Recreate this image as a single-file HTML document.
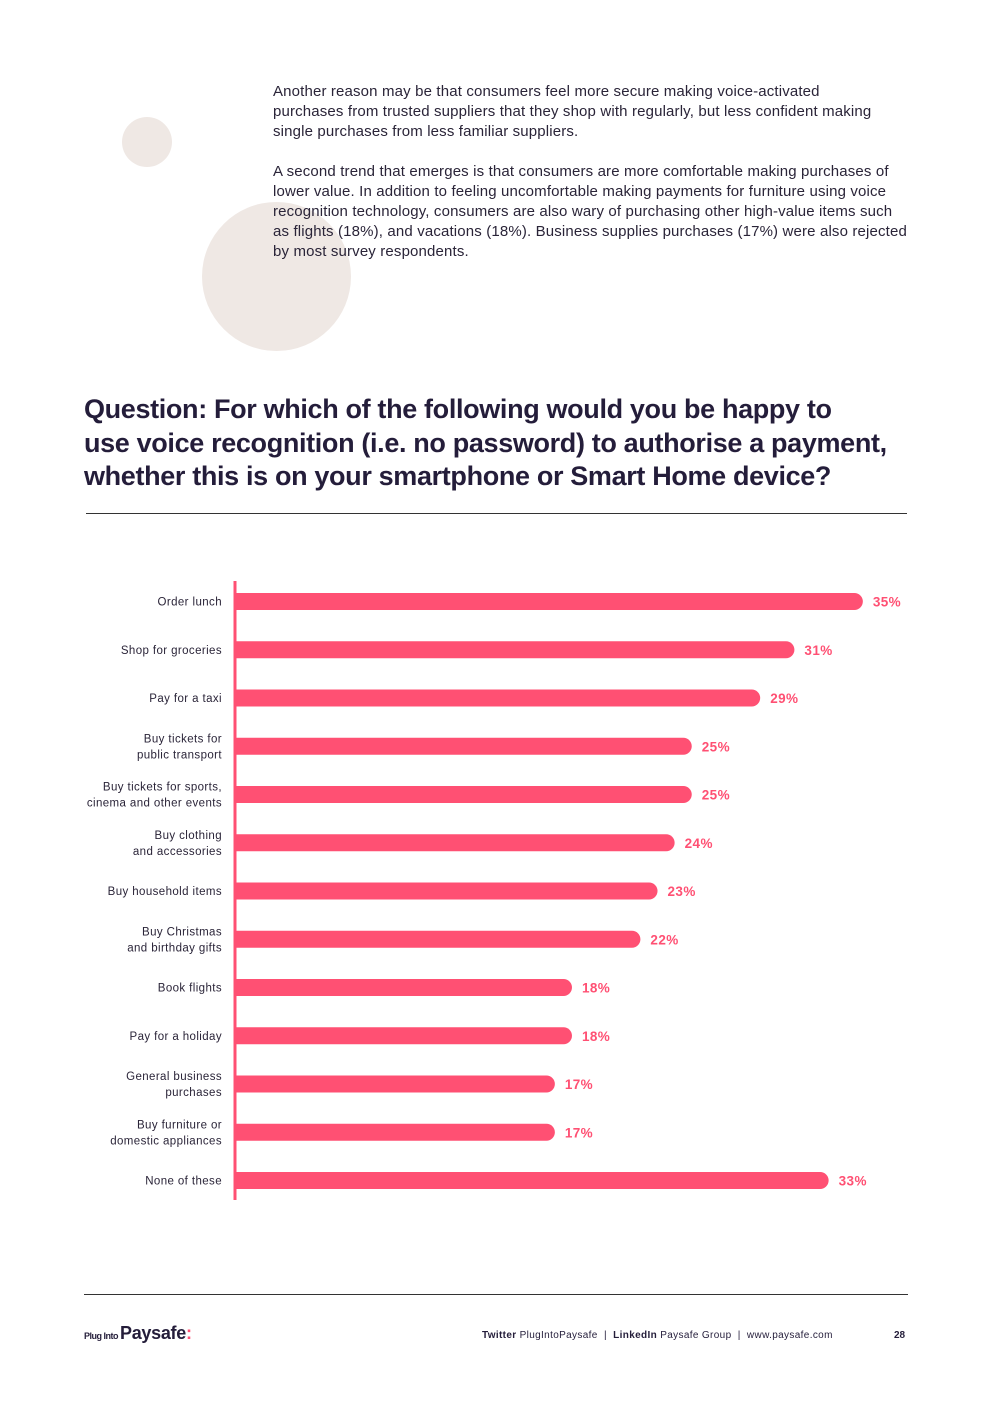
<!DOCTYPE html>
<html><head><meta charset="utf-8"><style>
body{margin:0;background:#fff;}
#page{position:relative;width:992px;height:1403px;overflow:hidden;background:#fff;font-family:"Liberation Sans",sans-serif;color:#2a2438;}
.circ{position:absolute;border-radius:50%;background:#efe8e4;}
.para{position:absolute;left:273px;width:700px;font-size:15px;letter-spacing:0.15px;line-height:20px;color:#2a2438;white-space:nowrap;}
h1{position:absolute;left:84px;top:393px;margin:0;font-size:27px;line-height:33.5px;font-weight:bold;color:#241d3a;letter-spacing:-0.35px;}
.rule{position:absolute;height:1px;background:#333;}
.foot{position:absolute;font-size:10px;color:#241d3a;}
</style></head><body>
<div id="page">
<div class="circ" style="left:122px;top:117px;width:50px;height:50px"></div>
<div class="circ" style="left:202px;top:202px;width:149px;height:149px"></div>
<div class="para" style="top:82px">Another reason may be that consumers feel more secure making voice-activated<br>purchases from trusted suppliers that they shop with regularly, but less confident making<br>single purchases from less familiar suppliers.</div>
<div class="para" style="top:162px">A second trend that emerges is that consumers are more comfortable making purchases of<br>lower value. In addition to feeling uncomfortable making payments for furniture using voice<br>recognition technology, consumers are also wary of purchasing other high-value items such<br>as flights (18%), and vacations (18%). Business supplies purchases (17%) were also rejected<br>by most survey respondents.</div>
<h1>Question: For which of the following would you be happy to<br>use voice recognition (i.e. no password) to authorise a payment,<br>whether this is on your smartphone or Smart Home device?</h1>
<div class="rule" style="left:86px;top:513px;width:821px"></div>
<svg id="chart" style="position:absolute;left:0;top:0" width="992" height="1403"></svg>
<div class="rule" style="left:84px;top:1294px;width:824px"></div>
<div class="foot" style="left:84px;top:1323px;font-weight:bold;font-size:10px"><span style="font-size:9px;letter-spacing:-0.5px">Plug Into </span><span style="font-size:18px;letter-spacing:-0.3px">Paysafe</span><span style="color:#ff5073;font-size:18px">:</span></div>
<div class="foot" style="left:482px;top:1330px;letter-spacing:0.35px"><b>Twitter</b> PlugIntoPaysafe &nbsp;|&nbsp; <b>LinkedIn</b> Paysafe Group &nbsp;|&nbsp; www.paysafe.com</div>
<div class="foot" style="left:894px;top:1330px;font-weight:bold">28</div>
</div>
<script>
const categories=[["Order lunch"],["Shop for groceries"],["Pay for a taxi"],["Buy tickets for","public transport"],["Buy tickets for sports,","cinema and other events"],["Buy clothing","and accessories"],["Buy household items"],["Buy Christmas","and birthday gifts"],["Book flights"],["Pay for a holiday"],["General business","purchases"],["Buy furniture or","domestic appliances"],["None of these"]];
const values=[35,31,29,25,25,24,23,22,18,18,17,17,33];
const valueLabels=["35%","31%","29%","25%","25%","24%","23%","22%","18%","18%","17%","17%","33%"];
const NS="http://www.w3.org/2000/svg";
const svg=document.getElementById('chart');
const x0=235,xOff=29,pxPer=17.11,y0=601.5,step=48.25,bh=17;
const xs=v=>x0+xOff+v*pxPer;
const ys=i=>y0+i*step;
function mk(t,a){const e=document.createElementNS(NS,t);for(const k in a)e.setAttribute(k,a[k]);svg.appendChild(e);return e;}
values.forEach((v,i)=>{
  const w=xs(v)-x0,y=ys(i);
  const p=mk('path',{d:`M${x0} ${y-bh/2}H${x0+w-bh/2}A${bh/2} ${bh/2} 0 0 1 ${x0+w-bh/2} ${y+bh/2}H${x0}Z`,fill:'#ff5073'});
  
  
  const t=mk('text',{x:xs(v)+10,y:y+5,fill:'#ff5073','font-size':'13.5','font-weight':'bold','font-family':'Liberation Sans, sans-serif','letter-spacing':'0.4'});
  t.textContent=valueLabels[i];
  
  
  const lines=categories[i];
  lines.forEach((s,j)=>{
    const ly=y+4+(j-(lines.length-1)/2)*16;
    const c=mk('text',{x:222,y:ly,'text-anchor':'end',fill:'#2a2438','font-size':'11.5','font-family':'Liberation Sans, sans-serif','letter-spacing':'0.4'});
    c.textContent=s;
    
    
  });
});
const ax=mk('line',{x1:x0,y1:581,x2:x0,y2:1200,stroke:'#ff5073','stroke-width':3});


</script>
</body></html>
